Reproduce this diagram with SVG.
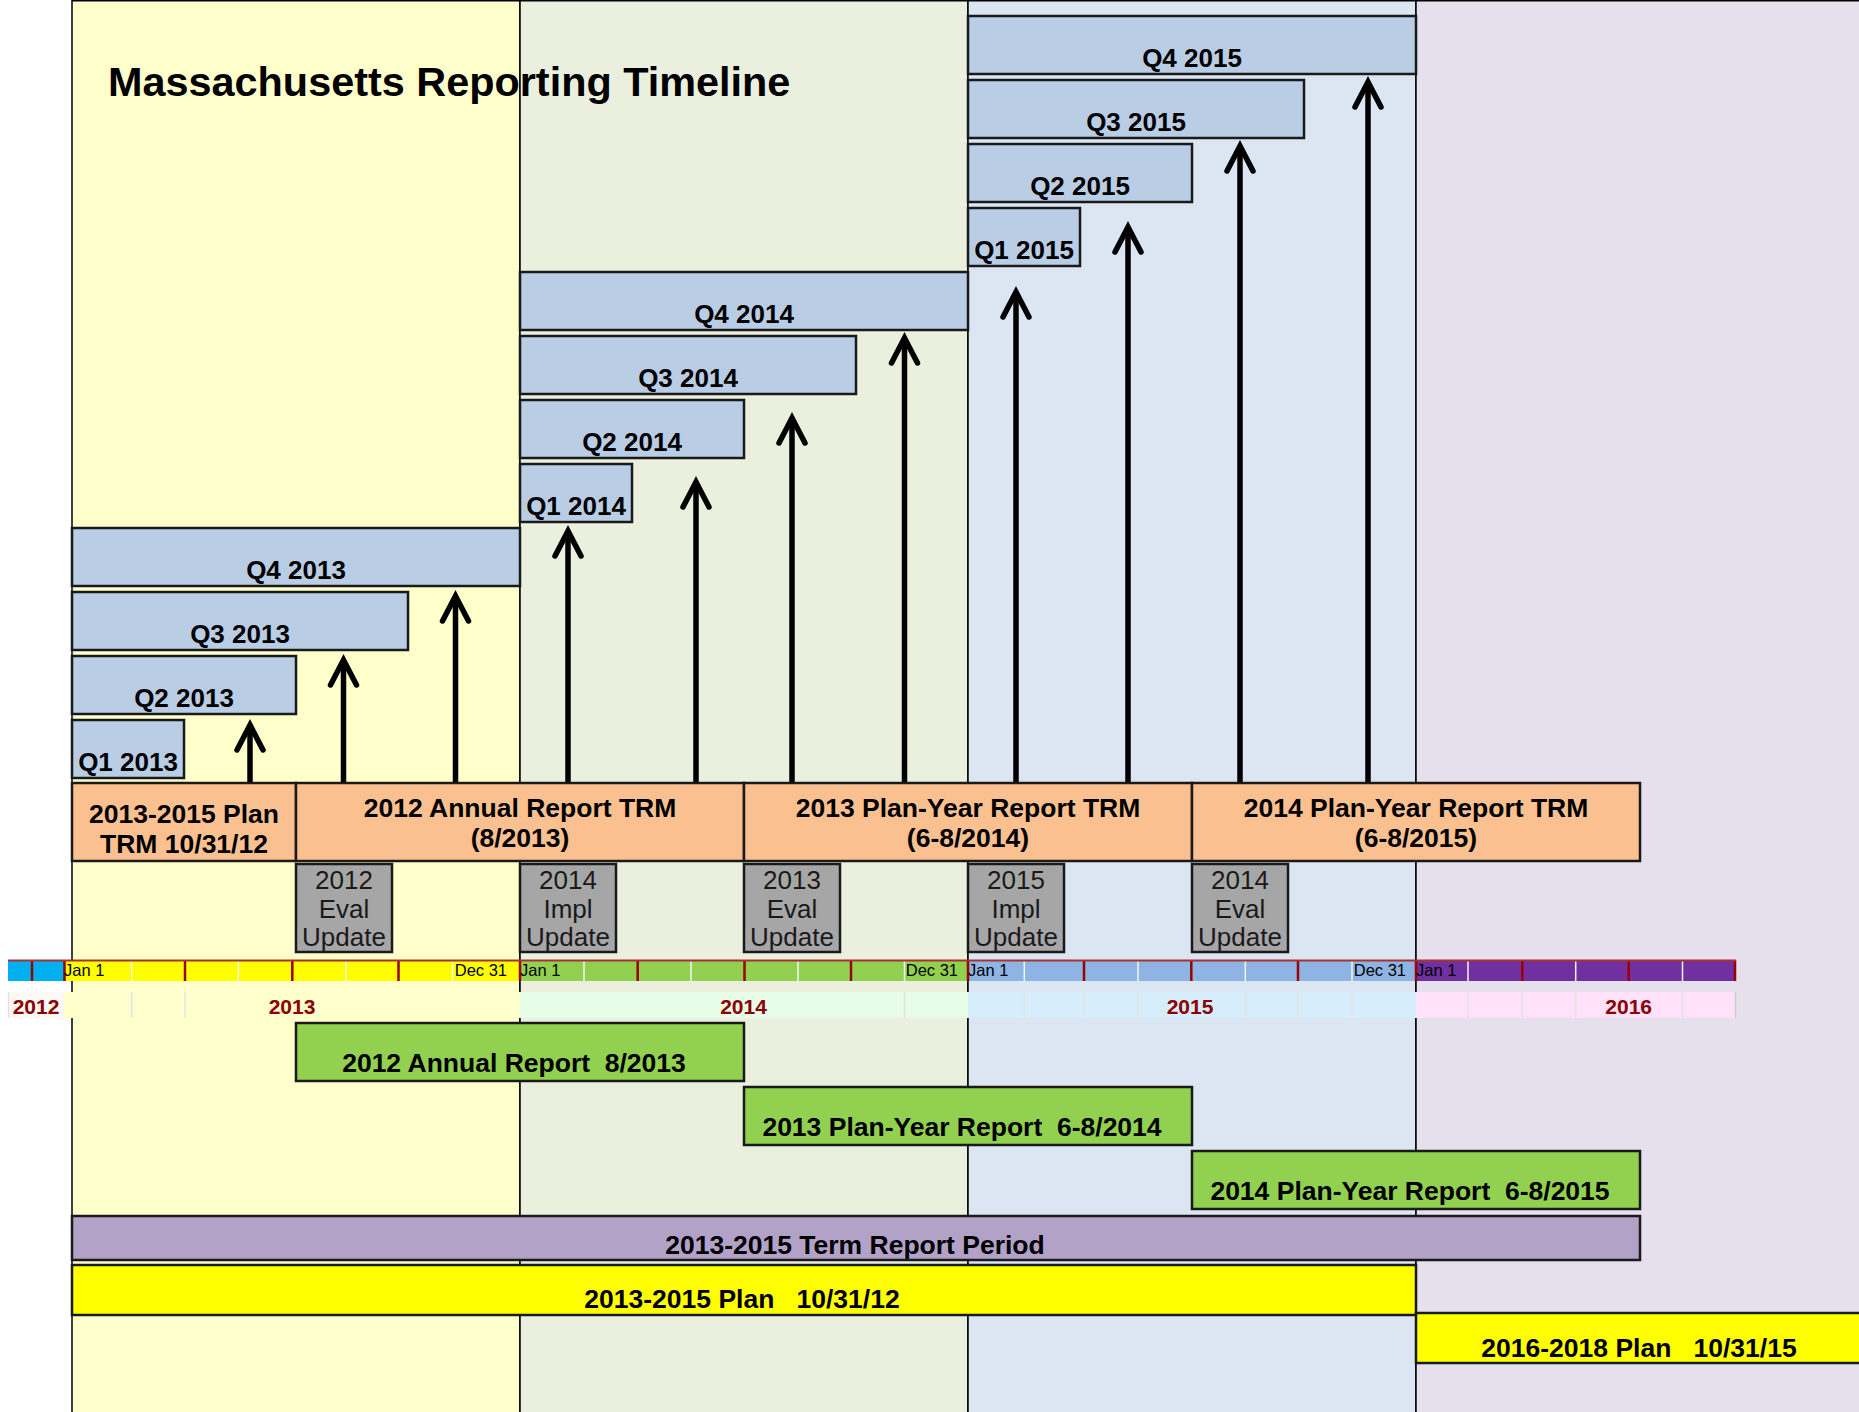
<svg xmlns="http://www.w3.org/2000/svg" width="1859" height="1412" viewBox="0 0 1859 1412">
<style>
text{font-family:"Liberation Sans",Arial,Helvetica,sans-serif;fill:#000;white-space:pre}
.b{font-weight:bold;font-size:26px;text-anchor:middle}
.L{font-size:26.5px}
.g{font-size:26px;text-anchor:middle;fill:#1a1a1a}
.t{font-size:16.5px}
.y{font-weight:bold;font-size:21px;fill:#8B0000;text-anchor:middle}
.box{stroke:#1a1a1a;stroke-width:2.5}
.q{fill:#B9CDE5}
.o{fill:#FAC090}
.gr{fill:#A6A6A6}
.gn{fill:#92D050}
.pnl{stroke:#000;stroke-width:1.5}
.arr{fill:none;stroke:#000;stroke-width:5.5;stroke-linecap:butt}
.head{fill:none;stroke:#000;stroke-width:5.5;stroke-linecap:round;stroke-linejoin:miter}
.rt{stroke:#990000;stroke-width:2.5}
.wt{stroke:#F4F4F4;stroke-width:1.5}
.gl{stroke:#E2E2E2;stroke-width:1.5}
</style>
<rect x="0" y="0" width="1859" height="1412" fill="#FFFFFF"/>
<g id="panels">
<rect class="pnl" x="72" y="0.75" width="448" height="1420" fill="#FFFFCC"/>
<rect class="pnl" x="520" y="0.75" width="448" height="1420" fill="#EBF0DE"/>
<rect class="pnl" x="968" y="0.75" width="448" height="1420" fill="#DCE6F2"/>
<rect class="pnl" x="1416" y="0.75" width="460" height="1420" fill="#E6E0EC"/>
</g>
<g id="title"><text x="108" y="96" style="font-weight:bold;font-size:41.4px">Massachusetts Reporting Timeline</text></g>
<g id="q2013">
<g id="q1-2013"><rect class="box q" x="72" y="720" width="112" height="58"/><text class="b" x="128" y="771">Q1 2013</text></g>
<g id="q2-2013"><rect class="box q" x="72" y="656" width="224" height="58"/><text class="b" x="184" y="707">Q2 2013</text></g>
<g id="q3-2013"><rect class="box q" x="72" y="592" width="336" height="58"/><text class="b" x="240" y="643">Q3 2013</text></g>
<g id="q4-2013"><rect class="box q" x="72" y="528" width="448" height="58"/><text class="b" x="296" y="579">Q4 2013</text></g>
</g>
<g id="q2014">
<g id="q1-2014"><rect class="box q" x="520" y="464" width="112" height="58"/><text class="b" x="576" y="515">Q1 2014</text></g>
<g id="q2-2014"><rect class="box q" x="520" y="400" width="224" height="58"/><text class="b" x="632" y="451">Q2 2014</text></g>
<g id="q3-2014"><rect class="box q" x="520" y="336" width="336" height="58"/><text class="b" x="688" y="387">Q3 2014</text></g>
<g id="q4-2014"><rect class="box q" x="520" y="272" width="448" height="58"/><text class="b" x="744" y="323">Q4 2014</text></g>
</g>
<g id="q2015">
<g id="q1-2015"><rect class="box q" x="968" y="208" width="112" height="58"/><text class="b" x="1024" y="259">Q1 2015</text></g>
<g id="q2-2015"><rect class="box q" x="968" y="144" width="224" height="58"/><text class="b" x="1080" y="195">Q2 2015</text></g>
<g id="q3-2015"><rect class="box q" x="968" y="80" width="336" height="58"/><text class="b" x="1136" y="131">Q3 2015</text></g>
<g id="q4-2015"><rect class="box q" x="968" y="16" width="448" height="58"/><text class="b" x="1192" y="67">Q4 2015</text></g>
</g>
<g id="connectors">
<path class="arr" d="M250 782V727"/><path class="head" d="M237 750L250 725L263 750"/>
<path class="arr" d="M343.5 782V662"/><path class="head" d="M330.5 685L343.5 660L356.5 685"/>
<path class="arr" d="M455.5 782V598"/><path class="head" d="M442.5 621L455.5 596L468.5 621"/>
<path class="arr" d="M568 782V533"/><path class="head" d="M555 556L568 531L581 556"/>
<path class="arr" d="M696 782V484"/><path class="head" d="M683 507L696 482L709 507"/>
<path class="arr" d="M792 782V420"/><path class="head" d="M779 443L792 418L805 443"/>
<path class="arr" d="M904.5 782V340"/><path class="head" d="M891.5 363L904.5 338L917.5 363"/>
<path class="arr" d="M1016 782V294"/><path class="head" d="M1003 317L1016 292L1029 317"/>
<path class="arr" d="M1128 782V229"/><path class="head" d="M1115 252L1128 227L1141 252"/>
<path class="arr" d="M1240 782V148"/><path class="head" d="M1227 171L1240 146L1253 171"/>
<path class="arr" d="M1368 782V84"/><path class="head" d="M1355 107L1368 82L1381 107"/>
</g>
<g id="trm">
<g id="trm-plan"><rect class="box o" x="72" y="783" width="224" height="78"/><text class="b L" x="184" y="823">2013-2015 Plan</text><text class="b L" x="184" y="853">TRM 10/31/12</text></g>
<g id="trm-2012"><rect class="box o" x="296" y="783" width="448" height="78"/><text class="b L" x="520" y="817">2012 Annual Report TRM</text><text class="b L" x="520" y="847">(8/2013)</text></g>
<g id="trm-2013"><rect class="box o" x="744" y="783" width="448" height="78"/><text class="b L" x="968" y="817">2013 Plan-Year Report TRM</text><text class="b L" x="968" y="847">(6-8/2014)</text></g>
<g id="trm-2014"><rect class="box o" x="1192" y="783" width="448" height="78"/><text class="b L" x="1416" y="817">2014 Plan-Year Report TRM</text><text class="b L" x="1416" y="847">(6-8/2015)</text></g>
</g>
<g id="updates">
<g id="u-2012-eval"><rect class="box gr" x="296" y="864" width="96" height="88"/><text class="g" x="344" y="889">2012</text><text class="g" x="344" y="917.5">Eval</text><text class="g" x="344" y="946">Update</text></g>
<g id="u-2014-impl"><rect class="box gr" x="520" y="864" width="96" height="88"/><text class="g" x="568" y="889">2014</text><text class="g" x="568" y="917.5">Impl</text><text class="g" x="568" y="946">Update</text></g>
<g id="u-2013-eval"><rect class="box gr" x="744" y="864" width="96" height="88"/><text class="g" x="792" y="889">2013</text><text class="g" x="792" y="917.5">Eval</text><text class="g" x="792" y="946">Update</text></g>
<g id="u-2015-impl"><rect class="box gr" x="968" y="864" width="96" height="88"/><text class="g" x="1016" y="889">2015</text><text class="g" x="1016" y="917.5">Impl</text><text class="g" x="1016" y="946">Update</text></g>
<g id="u-2014-eval"><rect class="box gr" x="1192" y="864" width="96" height="88"/><text class="g" x="1240" y="889">2014</text><text class="g" x="1240" y="917.5">Eval</text><text class="g" x="1240" y="946">Update</text></g>
</g>
<g id="timeline">
<rect x="8" y="960" width="56" height="21" fill="#00B0F0"/>
<rect x="64" y="960" width="456" height="21" fill="#FFFF00"/>
<rect x="520" y="960" width="448" height="21" fill="#92D050"/>
<rect x="968" y="960" width="448" height="21" fill="#8DB4E2"/>
<rect x="1416" y="960" width="320" height="21" fill="#7030A0"/>
<g class="wt">
<line x1="131.7" y1="961" x2="131.7" y2="981"/><line x1="238.4" y1="961" x2="238.4" y2="981"/><line x1="346" y1="961" x2="346" y2="981"/><line x1="452.5" y1="961" x2="452.5" y2="981"/>
<line x1="584" y1="961" x2="584" y2="981"/><line x1="691" y1="961" x2="691" y2="981"/><line x1="798" y1="961" x2="798" y2="981"/><line x1="904.5" y1="961" x2="904.5" y2="981"/>
<line x1="1024.3" y1="961" x2="1024.3" y2="981"/><line x1="1138" y1="961" x2="1138" y2="981"/><line x1="1245.3" y1="961" x2="1245.3" y2="981"/><line x1="1352" y1="961" x2="1352" y2="981"/>
<line x1="1468" y1="961" x2="1468" y2="981"/><line x1="1575.7" y1="961" x2="1575.7" y2="981"/><line x1="1682.5" y1="961" x2="1682.5" y2="981"/>
</g>
<g class="rt">
<line x1="32" y1="960" x2="32" y2="981"/><line x1="64.5" y1="960" x2="64.5" y2="981"/><line x1="185" y1="960" x2="185" y2="981"/><line x1="292.3" y1="960" x2="292.3" y2="981"/><line x1="398.5" y1="960" x2="398.5" y2="981"/><line x1="520" y1="960" x2="520" y2="981"/>
<line x1="637.7" y1="960" x2="637.7" y2="981"/><line x1="744.5" y1="960" x2="744.5" y2="981"/><line x1="851" y1="960" x2="851" y2="981"/><line x1="968" y1="960" x2="968" y2="981"/>
<line x1="1084" y1="960" x2="1084" y2="981"/><line x1="1191.3" y1="960" x2="1191.3" y2="981"/><line x1="1298" y1="960" x2="1298" y2="981"/><line x1="1416" y1="960" x2="1416" y2="981"/>
<line x1="1522.3" y1="960" x2="1522.3" y2="981"/><line x1="1628.7" y1="960" x2="1628.7" y2="981"/><line x1="1735" y1="960" x2="1735" y2="981"/>
</g>
<line x1="8" y1="960.5" x2="1736" y2="960.5" stroke="#A83232" stroke-width="2"/>
<text class="t" x="64" y="976">Jan 1</text><text class="t" x="507" y="976" text-anchor="end">Dec 31</text>
<text class="t" x="520" y="976">Jan 1</text><text class="t" x="958" y="976" text-anchor="end">Dec 31</text>
<text class="t" x="968" y="976">Jan 1</text><text class="t" x="1406" y="976" text-anchor="end">Dec 31</text>
<text class="t" x="1416" y="976">Jan 1</text>
<rect x="8" y="992" width="56" height="26" fill="#FDF8F3"/>
<rect x="64" y="992" width="456" height="26" fill="#FFFFCC"/>
<rect x="520" y="992" width="448" height="26" fill="#E8FDE8"/>
<rect x="968" y="992" width="448" height="26" fill="#D6EEFB"/>
<rect x="1416" y="992" width="320" height="26" fill="#FFE1FA"/>
<g class="gl">
<line x1="8.5" y1="992" x2="8.5" y2="1018"/><line x1="131.7" y1="992" x2="131.7" y2="1018"/><line x1="185" y1="992" x2="185" y2="1018"/><line x1="904.5" y1="992" x2="904.5" y2="1018"/>
<line x1="1024.3" y1="992" x2="1024.3" y2="1018"/><line x1="1084" y1="992" x2="1084" y2="1018"/><line x1="1138" y1="992" x2="1138" y2="1018"/><line x1="1245.3" y1="992" x2="1245.3" y2="1018"/><line x1="1298" y1="992" x2="1298" y2="1018"/><line x1="1352" y1="992" x2="1352" y2="1018"/>
<line x1="1468" y1="992" x2="1468" y2="1018"/><line x1="1522.3" y1="992" x2="1522.3" y2="1018"/><line x1="1575.7" y1="992" x2="1575.7" y2="1018"/><line x1="1682.5" y1="992" x2="1682.5" y2="1018"/>
</g>
<line x1="1735.5" y1="992" x2="1735.5" y2="1018" stroke="#CFCFCF" stroke-width="1.5"/>
<text class="y" x="36" y="1014">2012</text>
<text class="y" x="292" y="1014">2013</text>
<text class="y" x="743.5" y="1014">2014</text>
<text class="y" x="1190" y="1014">2015</text>
<text class="y" x="1628.7" y="1014">2016</text>
</g>
<g id="reports">
<g id="r-2012"><rect class="box gn" x="296" y="1023" width="448" height="58"/><text class="b L" x="514" y="1071.5">2012 Annual Report  8/2013</text></g>
<g id="r-2013"><rect class="box gn" x="744" y="1087" width="448" height="58"/><text class="b L" x="962" y="1135.5">2013 Plan-Year Report  6-8/2014</text></g>
<g id="r-2014"><rect class="box gn" x="1192" y="1151" width="448" height="58"/><text class="b L" x="1410" y="1199.5">2014 Plan-Year Report  6-8/2015</text></g>
</g>
<g id="term"><rect class="box" x="72" y="1216" width="1568" height="44" fill="#B3A2C7"/><text class="b L" x="855" y="1253.5">2013-2015 Term Report Period</text></g>
<g id="plan-2013"><rect class="box" x="72" y="1265" width="1344" height="50" fill="#FFFF00"/><text class="b L" x="742" y="1308">2013-2015 Plan   10/31/12</text></g>
<g id="plan-2016"><rect class="box" x="1416" y="1313" width="460" height="50" fill="#FFFF00"/><text class="b L" x="1639" y="1356.5">2016-2018 Plan   10/31/15</text></g>
</svg>
